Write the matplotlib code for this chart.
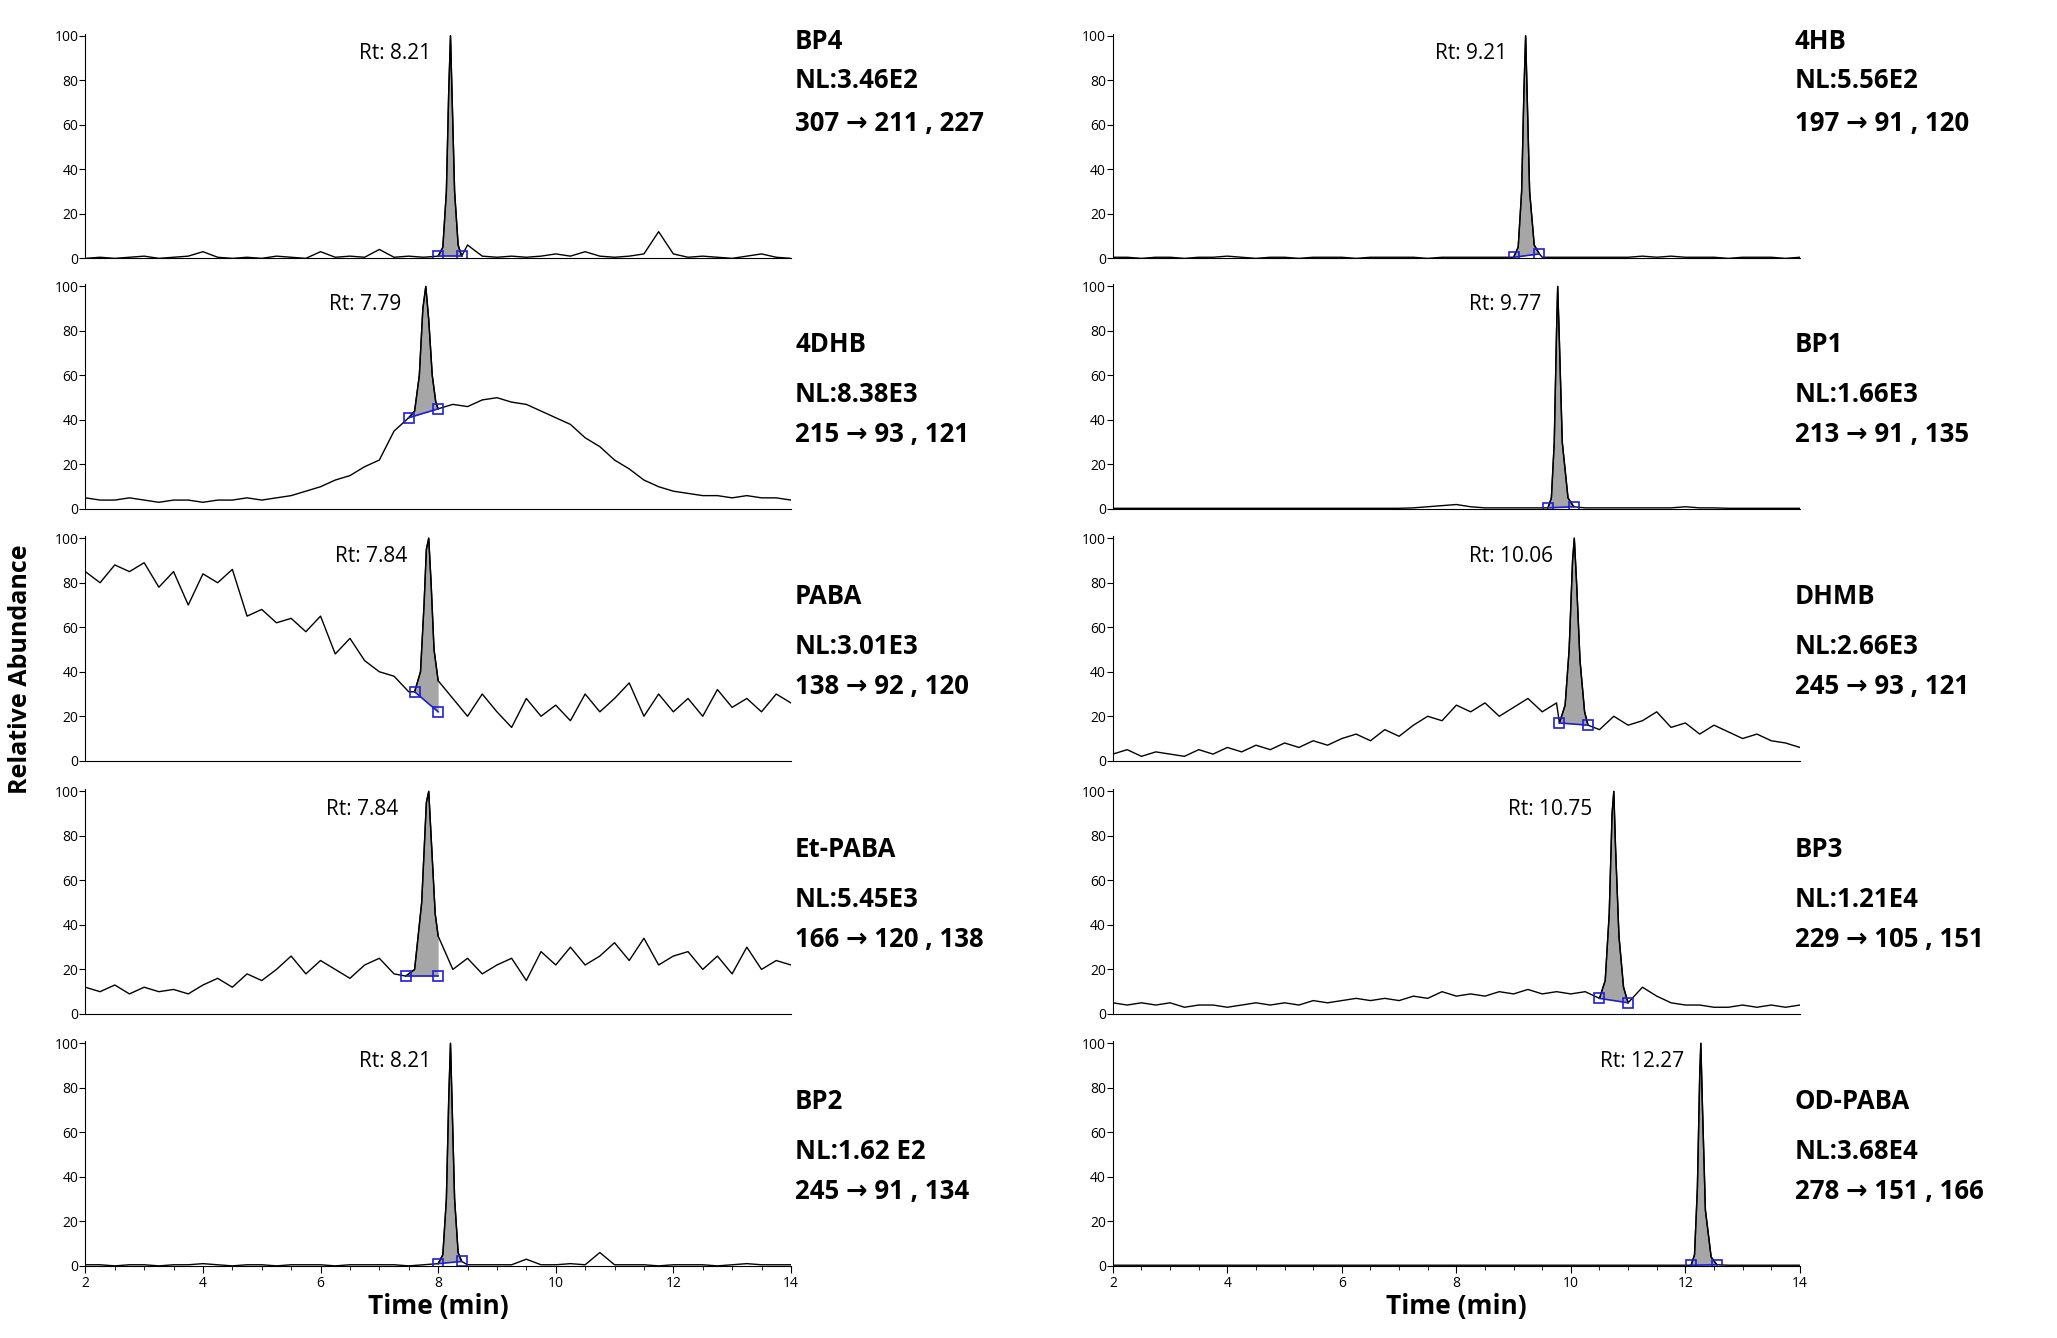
import numpy as np
import matplotlib
matplotlib.use("Agg")
import matplotlib.pyplot as plt

plt.rcParams['font.family'] = ['Open Sans', 'DejaVu Sans']

# ---------------- data ----------------
names = ["BP4", "4DHB", "PABA", "Et-PABA", "BP2", "4HB", "BP1", "DHMB", "BP3", "OD-PABA"]
nl_labels = ["NL:3.46E2", "NL:8.38E3", "NL:3.01E3", "NL:5.45E3", "NL:1.62 E2",
             "NL:5.56E2", "NL:1.66E3", "NL:2.66E3", "NL:1.21E4", "NL:3.68E4"]
transitions = ["307 \u2192 211 , 227", "215 \u2192 93 , 121", "138 \u2192 92 , 120", "166 \u2192 120 , 138",
               "245 \u2192 91 , 134", "197 \u2192 91 , 120", "213 \u2192 91 , 135", "245 \u2192 93 , 121",
               "229 \u2192 105 , 151", "278 \u2192 151 , 166"]
rt_values = [8.21, 7.79, 7.84, 7.84, 8.21, 9.21, 9.77, 10.06, 10.75, 12.27]

bp4_base = [0,0.5,0,0.5,1,0,0.5,1,3, 0.5,0,0.5,0,1,0.5,0,3, 0.5,1,0.5,4, 0.5,1,0.5,2,
            1,6,1,0.5, 1,0.5,1,2, 1,3,1,0.5, 1,2,12,2, 0.5,1,0.5,0, 1,2,0.5,0]
dhb4_base = [5,4,4,5,4,3,4,4,3, 4,4,5,4,5,6,8,10, 13,15,19,22, 35,40,42,45,
             47,46,49,50, 48,47,44,41, 38,32,28,22, 18,13,10,8, 7,6,6,5, 6,5,5,4]
paba_base = [85,80,88,85,89,78,85,70,84, 80,86,65,68,62,64,58,65, 48,55,45,40, 38,31,30,22,
             28,20,30,22, 15,28,20,25, 18,30,22,28, 35,20,30,22, 28,20,32,24, 28,22,30,26]
etpaba_base = [12,10,13,9,12,10,11,9,13, 16,12,18,15,20,26,18,24, 20,16,22,25, 18,17,25,17,
               20,25,18,22, 25,15,28,22, 30,22,26,32, 24,34,22,26, 28,20,26,18, 30,20,24,22]
bp2_base = [0.5,0.5,0,0.5,0.5,0,0.5,0.5,1, 0.5,0,0.5,0.5,0,0.5,0.5,0.5, 0,0.5,0.5,0.5, 0.5,0,0.5,1,
            1,0.5,0.5,0.5, 0.5,3,0.5,0.5, 1,0.5,6,0.5, 0.5,0.5,0,0.5, 0.5,0.5,0,0.5, 1,0.5,0.5,0.5]
hb4_base = [0.5,0.5,0,0.5,0.5,0,0.5,0.5,1, 0.5,0,0.5,0.5,0,0.5,0.5,0.5, 0,0.5,0.5,0.5, 0.5,0,0.5,0.5,
            0.5,0.5,0.5,0.5, 0.5,0.5,0.5,0.5, 0.5,0.5,0.5,0.5, 1,0.5,1,0.5, 0.5,0.5,0,0.5, 0.5,0.5,0,0.5]
bp1_base = [0.3,0.3,0.3,0.3,0.3,0.3,0.3,0.3,0.3, 0.3,0.3,0.3,0.3,0.3,0.3,0.3,0.3, 0.3,0.3,0.3,0.3, 0.5,1,1.5,2,
            1,0.5,0.5,0.5, 0.5,0.5,0.5,0.5, 0.5,0.5,0.5,0.5, 0.5,0.5,0.5,1, 0.5,0.5,0.3,0.3, 0.3,0.3,0.3,0.3]
dhmb_base = [3,5,2,4,3,2,5,3,6, 4,7,5,8,6,9,7,10, 12,9,14,11, 16,20,18,25,
             22,26,20,24, 28,22,26,17, 16,14,20,16, 18,22,15,17, 12,16,13,10, 12,9,8,6]
bp3_base = [5,4,5,4,5,3,4,4,3, 4,5,4,5,4,6,5,6, 7,6,7,6, 8,7,10,8,
            9,8,10,9, 11,9,10,9, 10,8,7,5, 12,8,5,4, 4,3,3,4, 3,4,3,4]
odpaba_base = [0.3]*49

bp4_pk_t = [8.0, 8.08, 8.14, 8.18, 8.21, 8.24, 8.28, 8.34, 8.4]
bp4_pk_y = [1, 5, 30, 75, 100, 70, 30, 6, 1]
dhb4_pk_t = [7.5, 7.6, 7.68, 7.74, 7.79, 7.84, 7.9, 7.96, 8.0]
dhb4_pk_y = [41, 44, 60, 90, 100, 85, 60, 48, 45]
paba_pk_t = [7.6, 7.7, 7.76, 7.8, 7.84, 7.88, 7.93, 8.0]
paba_pk_y = [31, 40, 70, 95, 100, 80, 50, 36]
etpaba_pk_t = [7.45, 7.6, 7.72, 7.8, 7.84, 7.88, 7.95, 8.0]
etpaba_pk_y = [17, 20, 50, 95, 100, 80, 45, 35]
bp2_pk_t = [8.0, 8.08, 8.14, 8.18, 8.21, 8.24, 8.28, 8.34, 8.4]
bp2_pk_y = [1, 5, 30, 75, 100, 70, 30, 6, 2]
hb4_pk_t = [9.0, 9.08, 9.14, 9.18, 9.21, 9.24, 9.28, 9.36, 9.45]
hb4_pk_y = [0.5, 5, 30, 75, 100, 70, 30, 6, 2]
bp1_pk_t = [9.6, 9.66, 9.71, 9.75, 9.77, 9.8, 9.85, 9.95, 10.05]
bp1_pk_y = [0.5, 5, 30, 80, 100, 75, 30, 5, 1]
dhmb_pk_t = [9.8, 9.9, 9.97, 10.03, 10.06, 10.1, 10.16, 10.24, 10.3]
dhmb_pk_y = [17, 25, 50, 90, 100, 80, 45, 22, 16]
bp3_pk_t = [10.5, 10.6, 10.67, 10.72, 10.75, 10.78, 10.84, 10.92, 11.0]
bp3_pk_y = [7, 15, 45, 90, 100, 75, 35, 12, 5]
odpaba_pk_t = [12.1, 12.16, 12.21, 12.25, 12.27, 12.3, 12.35, 12.45, 12.55]
odpaba_pk_y = [0.3, 5, 35, 85, 100, 70, 25, 4, 0.5]

bases = [bp4_base, dhb4_base, paba_base, etpaba_base, bp2_base,
         hb4_base, bp1_base, dhmb_base, bp3_base, odpaba_base]
peaks_t = [bp4_pk_t, dhb4_pk_t, paba_pk_t, etpaba_pk_t, bp2_pk_t,
           hb4_pk_t, bp1_pk_t, dhmb_pk_t, bp3_pk_t, odpaba_pk_t]
peaks_y = [bp4_pk_y, dhb4_pk_y, paba_pk_y, etpaba_pk_y, bp2_pk_y,
           hb4_pk_y, bp1_pk_y, dhmb_pk_y, bp3_pk_y, odpaba_pk_y]
marker_y = [(1, 1), (41, 45), (31, 22), (17, 17), (1, 2),
            (0.5, 2), (0.5, 1), (17, 16), (7, 5), (0.3, 0.5)]

# ---------------- layout ----------------
fig = plt.figure(figsize=(20.57, 13.38), dpi=100)
col_x = [0.0415, 0.541]
col_w = [0.343, 0.334]
row_bottom = [0.8069, 0.6196, 0.4314, 0.2422, 0.0539]
row_h = 0.168
text_x = [0.3865, 0.8725]

for i in range(10):
    c, r = divmod(i, 5)
    ax = fig.add_axes([col_x[c], row_bottom[r], col_w[c], row_h])
    base = np.array(bases[i], dtype=float)
    t = np.linspace(2, 14, len(base))
    pt = np.array(peaks_t[i]); py = np.array(peaks_y[i])
    keep = (t < pt[0]) | (t > pt[-1])
    tt = np.concatenate([t[keep], pt]); yy = np.concatenate([base[keep], py])
    o = np.argsort(tt)
    ax.plot(tt[o], yy[o], color='black', lw=1.0)
    m0, m1 = marker_y[i]
    baseline = np.interp(pt, [pt[0], pt[-1]], [m0, m1])
    ax.fill_between(pt, baseline, py, color='#a6a6a6', lw=0)
    ax.plot(pt, py, color='black', lw=1.0)
    ax.plot([pt[0], pt[-1]], [m0, m1], color='#1f1fd0', lw=1.2, marker='s',
            mfc='none', mec='#1f1fd0', ms=7, mew=1.2)
    ax.text(pt[0] - 0.12, 92, f"Rt: {rt_values[i]:.2f}", ha='right', va='center', fontsize=15)

    ax.set_xlim(2, 14); ax.set_ylim(0, 101)
    for s in ['top', 'right']:
        ax.spines[s].set_visible(False)
    ax.set_yticks([0, 20, 40, 60, 80, 100])
    ax.tick_params(axis='y', labelsize=10, length=4, pad=1)
    if r == 4:
        ax.set_xticks(range(2, 15, 2))
        ax.set_xticks(np.arange(2, 14.01, 0.5), minor=True)
        ax.tick_params(axis='x', labelsize=10, length=5, pad=2)
        ax.tick_params(axis='x', which='minor', length=3)
        ax.set_xlabel("Time (min)", fontsize=19, fontweight='bold', labelpad=2)
    else:
        ax.set_xticks([])

    ys = (0.965, 0.79, 0.60) if r == 0 else (0.73, 0.51, 0.33)
    xfig = text_x[c]
    xa = (xfig - col_x[c]) / col_w[c]
    for txt, yv in zip([names[i], nl_labels[i], transitions[i]], ys):
        ax.text(xa, yv, txt, transform=ax.transAxes, ha='left', va='center',
                fontsize=18.5, fontweight='bold', clip_on=False)

fig.text(0.004, 0.5, "Relative Abundance", rotation=90, ha='left', va='center',
         fontsize=18, fontweight='bold')

fig.savefig("out.png", dpi=100)
